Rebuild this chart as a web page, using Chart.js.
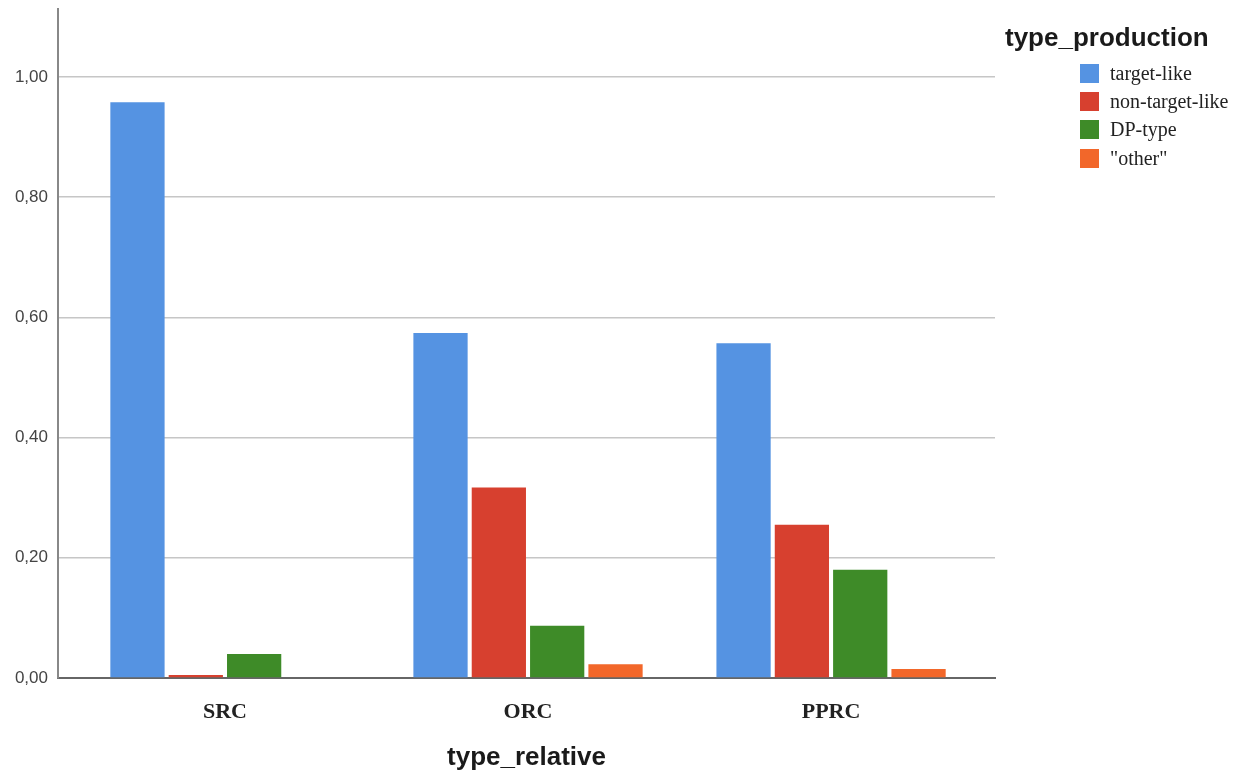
<!DOCTYPE html>
<html>
<head>
<meta charset="utf-8">
<script src="https://cdn.jsdelivr.net/npm/chart.js@4/dist/chart.umd.min.js"></script>
<style>
    body { margin: 0; background: #ffffff; }
    #wrap { position: relative; width: 1246px; height: 773px; }
    #legendBox { position: absolute; left: 1005px; top: 22px; font-family: "Liberation Serif", serif; color: #222; }
    #legendBox .title { font: bold 26px "Liberation Sans", Arial, sans-serif; color: #1a1a1a; margin-bottom: 6px; }
    #legendBox .item { display: flex; align-items: center; height: 28.3px; margin-left: 75px; font-size: 20px; }
    #legendBox .box { width: 19px; height: 19px; margin-right: 11px; }
</style>
</head>
<body>
<div id="wrap">
    <canvas id="myChart" width="1246" height="773"></canvas>
    <div id="legendBox"></div>
</div>
<script>
// 類別與數值
let categories = ['SRC', 'ORC', 'PPRC']
let seriesNames = ['target-like', 'non-target-like', 'DP-type', '"other"']
let seriesColors = ['#5593e2', '#d7402f', '#3e8b28', '#f2672a']
let targetLike = [0.958, 0.574, 0.557]
let nonTargetLike = [0.005, 0.317, 0.255]
let dpType = [0.040, 0.087, 0.180]
let other = [0, 0.023, 0.015]
let yTicks = [0, 0.2, 0.4, 0.6, 0.8, 1.0]

let chartMain


function buildLegend(){
    let box = document.querySelector('#legendBox')
    let html = `<div class="title">type_production</div>`
    seriesNames.forEach((name, i) => {
        html += `<div class="item"><span class="box" style="background:${seriesColors[i]}"></span>${name.replace(/"/g, '&quot;')}</div>`
    })
    box.innerHTML = html
}


function makeDataSets(){
    let allValues = [targetLike, nonTargetLike, dpType, other]
    let data = []
    for (let i=0; i<allValues.length; i++){
        data.push({
            label: seriesNames[i],
            data: allValues[i].map((v, j) => ({x: j, y: v})),
            backgroundColor: seriesColors[i],
            borderWidth: 0,
        })
    }
    return data
}


function newChart(){
    let canvasNew = document.querySelector('#myChart').getContext('2d')

    chartMain = new Chart(canvasNew, {
        type: 'bar',
        data: {
            datasets: makeDataSets()
        },
        options: {
            responsive: false,
            animation: false,
            categoryPercentage: 0.77,
            barPercentage: 0.93,
            layout: {
                padding: { top: 9, right: 251, left: 0, bottom: 0 }
            },
            scales: {
                x: {
                    type: 'linear',
                    offset: false,
                    min: -0.551,
                    max: 2.541,
                    afterBuildTicks: (scale) => {
                        scale.ticks = categories.map((c, i) => ({ value: i }))
                    },
                    afterFit: (scale) => {
                        scale.height = 95
                        scale.paddingLeft = 0
                        scale.paddingRight = 0
                    },
                    ticks: {
                        callback: (value) => categories[value],
                        font: { family: "'Liberation Serif', serif", size: 22, weight: 'bold' },
                        color: '#222',
                        padding: 21,
                        autoSkip: false,
                        maxRotation: 0,
                    },
                    grid: { display: false, drawTicks: false },
                    border: { display: true, color: '#666', width: 2 },
                    title: {
                        display: true,
                        text: 'type_relative',
                        font: { family: "'Liberation Sans', Arial, sans-serif", size: 26, weight: 'bold' },
                        color: '#1a1a1a',
                        padding: { top: 0, bottom: 0 },
                    },
                },
                y: {
                    min: 0,
                    max: 1.113,
                    afterBuildTicks: (scale) => {
                        scale.ticks = yTicks.map(v => ({ value: v }))
                    },
                    afterFit: (scale) => {
                        scale.width = 58
                        scale.paddingTop = 0
                        scale.paddingBottom = 0
                    },
                    ticks: {
                        callback: (value) => value.toFixed(2).replace('.', ','),
                        font: { family: "'Liberation Sans', Arial, sans-serif", size: 17 },
                        color: '#444',
                        padding: 10,
                    },
                    grid: { color: '#c6c6c6', lineWidth: 1.5, drawTicks: false },
                    border: { display: true, color: '#888', width: 2 },
                }
            },
            plugins: {
                legend: { display: false },
                tooltip: { enabled: false },
            },
        }
    })
}


buildLegend()
newChart()
</script>
</body>
</html>
